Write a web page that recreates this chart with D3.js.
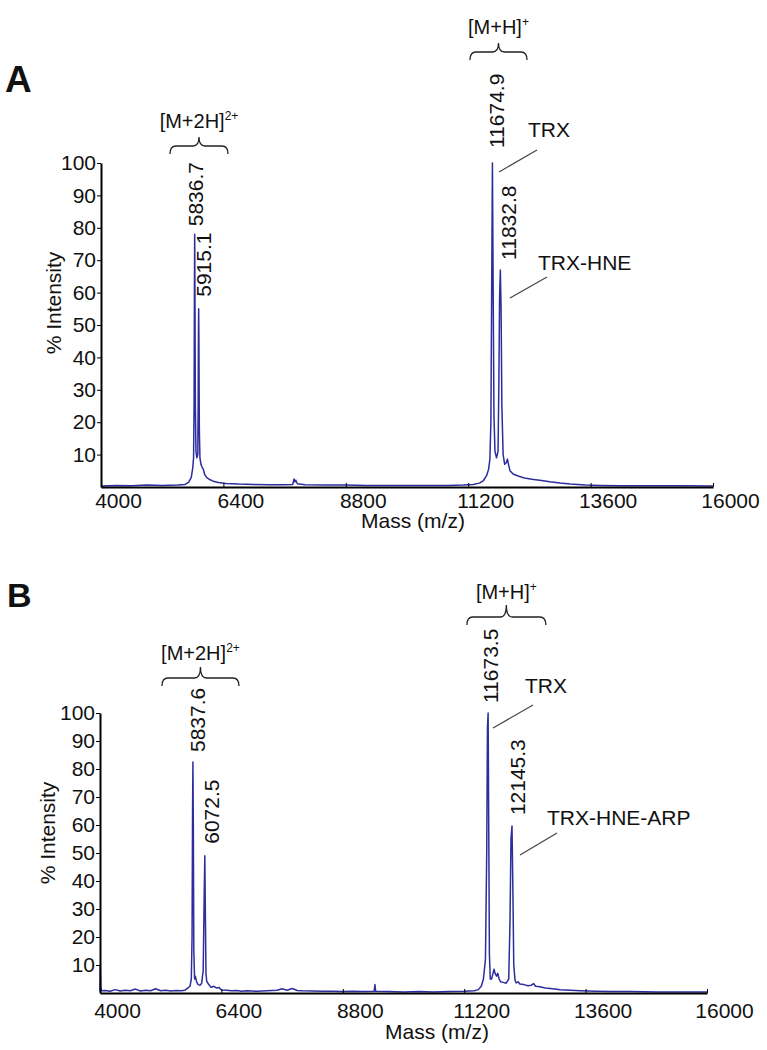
<!DOCTYPE html>
<html>
<head>
<meta charset="utf-8">
<script src="https://cdn.jsdelivr.net/npm/d3@7/dist/d3.min.js"></script>
<style>
  body { margin: 0; background: #fff; }
  svg { display: block; }
  text { font-family: Arial, "Liberation Sans", sans-serif; fill: #111; }
</style>
</head>
<body>
<svg id="fig" width="767" height="1050"></svg>
<script>
// tick labels
const massTicks = [4000, 6400, 8800, 11200, 13600, 16000];
const intensityTicks = [10, 20, 30, 40, 50, 60, 70, 80, 90, 100];

// spectrum A: [m/z, % intensity]
const specA = [
  [4000, 0.3], [4300, 0.5], [4600, 0.4], [4900, 0.6], [5200, 0.5], [5500, 0.6], [5650, 0.8],
  [5720, 1.5], [5770, 3], [5800, 6], [5815, 9], [5825, 25], [5832, 60], [5837, 78], [5842, 60],
  [5850, 25], [5862, 11], [5880, 9], [5898, 10], [5905, 25], [5911, 48], [5915, 55], [5920, 45],
  [5928, 18], [5940, 9], [5960, 7], [5985, 6], [6005, 5.5], [6030, 4], [6070, 3], [6120, 2.4],
  [6200, 1.8], [6300, 1.4], [6450, 1.1], [6700, 0.9], [7000, 0.8], [7300, 0.7], [7600, 0.7],
  [7760, 0.8], [7785, 2.5], [7800, 1.6], [7820, 2.1], [7850, 1], [8000, 0.7], [8400, 0.6],
  [8800, 0.6], [9200, 0.5], [9600, 0.5], [10000, 0.5], [10400, 0.5], [10800, 0.5], [11100, 0.6],
  [11300, 0.8], [11420, 1.2], [11500, 2], [11560, 3.5], [11600, 5.5], [11625, 8.5], [11645, 20],
  [11660, 60], [11675, 100], [11690, 60], [11705, 22], [11725, 11], [11755, 9], [11785, 11],
  [11800, 30], [11815, 58], [11830, 67], [11845, 55], [11860, 25], [11885, 10], [11915, 7],
  [11945, 7.5], [11970, 8.6], [11990, 7], [12020, 5], [12080, 4], [12180, 3.4], [12300, 2.8],
  [12450, 2.4], [12600, 2.1], [12800, 1.6], [13000, 1.2], [13200, 0.9], [13500, 0.6], [13800, 0.5],
  [14200, 0.4], [14600, 0.4], [15000, 0.4], [15400, 0.4], [16000, 0.3]
];

// spectrum B
const specB = [
  [4000, 0.5], [4005, 9.5], [4015, 2], [4030, 0.8], [4100, 0.9], [4200, 0.6], [4300, 1.2],
  [4400, 0.7], [4500, 1], [4600, 0.8], [4700, 1.4], [4800, 0.7], [4900, 1], [5000, 0.8],
  [5100, 1.5], [5200, 0.8], [5300, 1], [5400, 0.7], [5500, 0.9], [5600, 0.8], [5680, 1],
  [5740, 1.8], [5780, 2.5], [5805, 5], [5820, 20], [5830, 65], [5837, 82.5], [5845, 60],
  [5855, 15], [5870, 5], [5885, 6], [5910, 4], [5940, 3], [5980, 2.8], [6010, 3.5], [6040, 8],
  [6060, 35], [6072, 49], [6082, 30], [6095, 7], [6110, 4.2], [6150, 3], [6200, 2], [6250, 2.4],
  [6300, 1.8], [6350, 2], [6400, 1.1], [6500, 1], [6600, 0.8], [6700, 0.9], [6800, 0.6],
  [6900, 0.8], [7000, 0.7], [7100, 0.6], [7300, 0.8], [7500, 1], [7600, 1.5], [7700, 1],
  [7800, 1.6], [7900, 0.9], [8000, 0.8], [8200, 0.7], [8400, 0.6], [8600, 0.6], [8800, 0.5],
  [9000, 0.6], [9200, 0.5], [9420, 0.6], [9435, 3], [9450, 0.6], [9700, 0.5], [10000, 0.4],
  [10300, 0.5], [10600, 0.4], [10900, 0.5], [11200, 0.6], [11400, 0.8], [11480, 1.2], [11540, 2.5],
  [11580, 5], [11620, 12], [11645, 50], [11660, 95], [11673, 100], [11685, 60], [11698, 14],
  [11715, 5], [11740, 5], [11770, 7], [11790, 8.5], [11810, 7], [11840, 6], [11865, 7], [11890, 5],
  [11920, 4], [11970, 3.8], [12030, 3.5], [12080, 5], [12105, 25], [12125, 55], [12145, 59.6],
  [12160, 40], [12180, 10], [12205, 4.5], [12230, 3.6], [12265, 4], [12300, 3.2], [12380, 3],
  [12460, 2.6], [12530, 2.8], [12570, 3.4], [12610, 2.4], [12700, 2.2], [12800, 1.8], [12950, 1.5],
  [13100, 1.2], [13300, 1], [13500, 0.8], [13800, 0.6], [14100, 0.5], [14500, 0.5], [15000, 0.4],
  [15500, 0.4], [16000, 0.4]
];

// peak labels
const peakMassA = [5836.7, 5915.1, 11674.9, 11832.8];
const peakHeightA = [78, 55, 100, 67];
const peakMassB = [5837.6, 6072.5, 11673.5, 12145.3];
const peakHeightB = [82.5, 49, 100, 59.6];

// charge state brackets: [from m/z, to m/z, label, charge]
const bracesA = [[5353, 6490, "[M+2H]", "2+"], [11235, 12353, "[M+H]", "+"]];
const bracesB = [[5225, 6747, "[M+2H]", "2+"], [11253, 12814, "[M+H]", "+"]];

const speciesA = ["TRX", "TRX-HNE"];
const speciesB = ["TRX", "TRX-HNE-ARP"];

const svg = d3.select("#fig");

const panels = [
  {
    letter: "A", letterXY: [5, 92], letterSize: 37,
    spec: specA, peakMass: peakMassA, peakHeight: peakHeightA, braces: bracesA, species: speciesA,
    xr: [101, 713], yr: [487, 163],
    braceY: [[146, 137, 128], [52, 43, 34]],
    speciesXY: [[528, 137, 537, 150, 499, 172], [538, 270, 547, 277, 510, 298]],
    tickLabelDy: 21, titleXY: [413, 528], yTitleXY: [54, 303],
    labelDx: [1, 5, 4, 8], labelGap: [8, 12, 15, 10]
  },
  {
    letter: "B", letterXY: [7, 607], letterSize: 34,
    spec: specB, peakMass: peakMassB, peakHeight: peakHeightB, braces: bracesB, species: speciesB,
    xr: [100, 707], yr: [993, 713],
    braceY: [[678, 667, 660], [617, 605, 599]],
    speciesXY: [[525, 693, 533, 705, 493, 728], [547, 825, 557, 833, 520, 855]],
    tickLabelDy: 25, titleXY: [437, 1039], yTitleXY: [48, 833],
    labelDx: [4, 7, 2, 5], labelGap: [10, 12, 10, 11]
  }
];

const bracePath = (x0, x1, y, tip) => {
  const xm = (x0 + x1) / 2, r = 6, drop = 8;
  return `M${x0},${y + drop} Q${x0},${y} ${x0 + r},${y} L${xm - r},${y} Q${xm},${y} ${xm},${tip}` +
    ` Q${xm},${y} ${xm + r},${y} L${x1 - r},${y} Q${x1},${y} ${x1},${y + drop}`;
};

panels.forEach(p => {
  const x = d3.scaleLinear().domain([4000, 16000]).range(p.xr);
  const y = d3.scaleLinear().domain([0, 100]).range(p.yr);
  const g = svg.append("g");

  // panel letter
  g.append("text")
    .attr("x", p.letterXY[0]).attr("y", p.letterXY[1])
    .attr("font-size", p.letterSize).attr("font-weight", "bold")
    .text(p.letter);

  // spectrum
  const line = d3.line().x(d => x(d[0])).y(d => y(d[1]));
  g.append("path")
    .datum(p.spec)
    .attr("d", line)
    .attr("fill", "none")
    .attr("stroke", "#2d2d9e")
    .attr("stroke-width", 1.5)
    .attr("stroke-linejoin", "round");

  // y axis
  const yAxis = g.append("g")
    .attr("transform", `translate(${p.xr[0]},0)`)
    .call(d3.axisLeft(y).tickValues(intensityTicks).tickSize(4).tickSizeOuter(0).tickPadding(1));
  yAxis.select(".domain").attr("stroke", "#000").attr("stroke-width", 2);
  yAxis.selectAll(".tick line").attr("stroke", "#000");
  yAxis.selectAll(".tick text").attr("font-size", 21).attr("fill", "#111")
    .attr("font-family", "Arial, 'Liberation Sans', sans-serif");

  // x axis
  const xAxis = g.append("g")
    .attr("transform", `translate(0,${p.yr[0]})`)
    .call(d3.axisBottom(x).tickValues(massTicks).tickFormat(d3.format("d"))
      .tickSize(-4).tickSizeOuter(0).tickPadding(0));
  xAxis.select(".domain").attr("stroke", "#000").attr("stroke-width", 2);
  xAxis.selectAll(".tick line").attr("stroke", "#000");
  xAxis.selectAll(".tick text").attr("font-size", 21).attr("fill", "#111")
    .attr("font-family", "Arial, 'Liberation Sans', sans-serif")
    .attr("dx", 17).attr("dy", 0).attr("y", p.tickLabelDy);

  // axis titles
  g.append("text")
    .attr("x", p.titleXY[0]).attr("y", p.titleXY[1])
    .attr("text-anchor", "middle").attr("font-size", 21)
    .text("Mass (m/z)");
  g.append("text")
    .attr("transform", `translate(${p.yTitleXY[0]},${p.yTitleXY[1]}) rotate(-90)`)
    .attr("text-anchor", "middle").attr("dy", "0.35em").attr("font-size", 21)
    .text("% Intensity");

  // peak labels
  p.peakMass.forEach((m, i) => {
    g.append("text")
      .attr("transform", `translate(${x(m) + p.labelDx[i]},${y(p.peakHeight[i]) - p.labelGap[i]}) rotate(-90)`)
      .attr("text-anchor", "start").attr("dy", "0.36em").attr("font-size", 21)
      .text(m.toFixed(1));
  });

  // brackets
  p.braces.forEach((b, i) => {
    const [by, tip, ty] = p.braceY[i];
    const x0 = x(b[0]), x1 = x(b[1]);
    g.append("path")
      .attr("d", bracePath(x0, x1, by, tip))
      .attr("fill", "none").attr("stroke", "#222").attr("stroke-width", 1.3);
    const t = g.append("text")
      .attr("x", (x0 + x1) / 2).attr("y", ty)
      .attr("text-anchor", "middle").attr("font-size", 20);
    t.append("tspan").text(b[2]);
    t.append("tspan").attr("dy", -8).attr("font-size", 12).text(b[3]);
  });

  // species labels with leader lines
  p.species.forEach((s, i) => {
    const [tx, ty, lx1, ly1, lx2, ly2] = p.speciesXY[i];
    g.append("text").attr("x", tx).attr("y", ty).attr("font-size", 21).text(s);
    g.append("line")
      .attr("x1", lx1).attr("y1", ly1).attr("x2", lx2).attr("y2", ly2)
      .attr("stroke", "#444").attr("stroke-width", 1.2);
  });
});
</script>
</body>
</html>
